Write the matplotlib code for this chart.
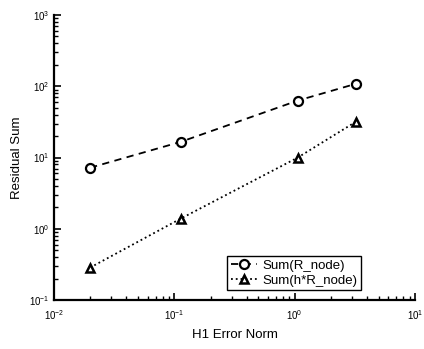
import matplotlib
matplotlib.use("Agg")
import matplotlib.pyplot as plt
from matplotlib.ticker import LogLocator, LogFormatterMathtext, NullFormatter

# --- Donnees ---
h1_norm = [0.02, 0.113, 1.06, 3.2]
sum_r_node = [7.2, 16.6, 63, 108]
sum_h_r_node = [0.286, 1.39, 10, 31.6]

plt.rcParams['font.family'] = ['Liberation Sans', 'DejaVu Sans']

fig = plt.figure(figsize=(4.24, 3.49), dpi=100)
ax = fig.add_axes([0.127, 0.140, 0.852, 0.817])

ax.plot(h1_norm, sum_r_node, linestyle='--', color='black', lw=1.3,
        marker='o', markersize=6.5, markerfacecolor='white', markeredgewidth=1.6,
        label='Sum(R_node)', dashes=(4, 3))
ax.plot(h1_norm, sum_h_r_node, linestyle=':', color='black', lw=1.3,
        marker='^', markersize=6, markerfacecolor='white', markeredgewidth=1.8,
        label='Sum(h*R_node)')

ax.set_xscale('log')
ax.set_yscale('log')
ax.set_xlim(1e-2, 1e1)
ax.set_ylim(1e-1, 1e3)

for ax_ in (ax.xaxis, ax.yaxis):
    ax_.set_major_locator(LogLocator(base=10, numticks=10))
    ax_.set_minor_locator(LogLocator(base=10, subs=range(2, 10), numticks=20))
    ax_.set_major_formatter(LogFormatterMathtext())
    ax_.set_minor_formatter(NullFormatter())

ax.spines['top'].set_visible(False)
ax.spines['right'].set_visible(False)
ax.spines['left'].set_linewidth(1.6)
ax.spines['bottom'].set_linewidth(1.6)
ax.tick_params(which='major', direction='in', length=5, width=1.2, labelsize=7)
ax.tick_params(which='minor', direction='in', length=3, width=1)
ax.tick_params(axis='x', pad=6)

ax.set_xlabel('H1 Error Norm', fontsize=9.5, labelpad=5)
ax.set_ylabel('Residual Sum', fontsize=9.5, labelpad=4)

leg = ax.legend(loc='lower left', bbox_to_anchor=(0.48, 0.035), fontsize=9.5,
                handlelength=2.0, handletextpad=0.4, borderpad=0.25,
                labelspacing=0.2, fancybox=False, framealpha=1,
                edgecolor='black', borderaxespad=0)
leg.get_frame().set_linewidth(1.0)

fig.savefig('out.png', dpi=100)
